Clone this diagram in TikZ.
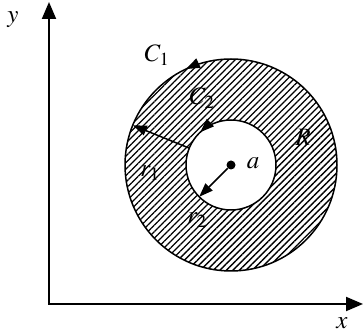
\documentclass[tikz,border=0pt]{standalone}
\usepackage{amsmath}
\usepackage{mathptmx}
\usetikzlibrary{arrows.meta, calc, patterns.meta, decorations.markings}

\begin{document}
\begin{tikzpicture}[x=1pt, y=1pt,
    axis/.style={line width=2pt, {Triangle[length=17pt,width=14pt]}-{Triangle[length=17pt,width=14pt]}},
    rim/.style={line width=1.5pt},
    radius line/.style={line width=1.5pt, -{Triangle[length=14pt,width=10pt]}},
    lab/.style={font=\fontsize{25}{30}\selectfont, inner sep=0pt},
    flow/.style={decoration={markings, mark=at position #1 with {\arrow{Triangle[length=14pt,width=10pt]}}}, postaction={decorate}}]
    \useasboundingbox (0,0) rectangle (364,334);
    % axes
    \coordinate (O) at (49,30);
    \coordinate (xend) at (363,30);
    \coordinate (yend) at (49,332);
    \draw[axis] (yend) -- (O) -- (xend);
    % region R between C1 and C2
    \node[circle, fill, inner sep=0pt, minimum size=9pt] (a) at (231,169) {};
    \fill[pattern={Lines[angle=45, distance=4.6pt, line width=1.3pt]}, even odd rule]
        (a.center) circle (106pt) (a.center) circle (45pt);
    \draw[rim, flow=0.32] (a.center) circle (106pt);
    \draw[rim, flow=0.37] (a.center) circle (45pt);
    % radii
    \coordinate (r1 start) at ($(a.center)+(158:45pt)$);
    \coordinate (r1 end) at ($(a.center)+(158:106pt)$);
    \coordinate (r2 end) at ($(a.center)+(225:45pt)$);
    \draw[radius line] (r1 start) -- (r1 end);
    \draw[radius line] (a) -- (r2 end);
    % labels
    \node[lab] (ylab) at (13,314) {$y$};
    \node[lab] (xlab) at (342,11) {$x$};
    \node[lab] (C1) at (157,279) {$C_1$};
    \node[lab] (C2) at (202,236) {$C_2$};
    \node[lab] (r1) at (150,161) {$r_1$};
    \node[lab] (r2) at (197,114) {$r_2$};
    \node[lab] (alab) at (253,171) {$a$};
    \node[lab] (Rlab) at (303,197) {$R$};
\end{tikzpicture}
\end{document}
